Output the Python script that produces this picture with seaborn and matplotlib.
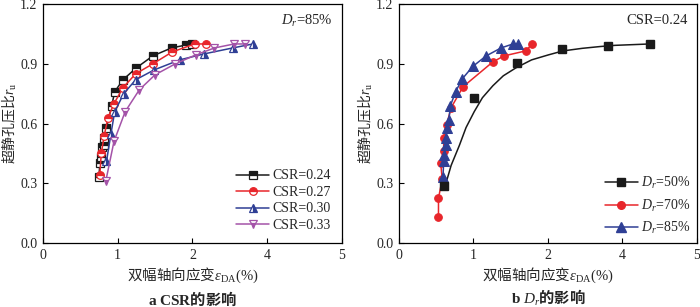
import numpy as np
import matplotlib
matplotlib.use("Agg")
import matplotlib.pyplot as plt
import seaborn as sns

# ---- data (x in %, y = r_u) ----
# (a) effect of CSR, Dr = 85%
csr24_x = [0.75, 0.76, 0.77, 0.79, 0.81, 0.82, 0.85, 0.92, 0.96, 1.07, 1.25, 1.47, 1.72, 1.92, 2.00]
csr24_y = [0.33, 0.40, 0.43, 0.48, 0.49, 0.53, 0.58, 0.69, 0.76, 0.82, 0.88, 0.94, 0.98, 0.995, 1.00]
csr27_x = [0.76, 0.78, 0.82, 0.87, 0.95, 1.07, 1.24, 1.47, 1.73, 2.06, 2.36]
csr27_y = [0.34, 0.45, 0.54, 0.63, 0.70, 0.78, 0.85, 0.90, 0.96, 1.00, 1.00]
csr30_x = [0.85, 0.91, 0.96, 1.08, 1.24, 1.49, 1.83, 2.31, 3.08, 3.62]
csr30_y = [0.41, 0.55, 0.66, 0.75, 0.82, 0.87, 0.92, 0.95, 0.98, 1.00]
csr33_x = [0.84, 0.95, 1.10, 1.29, 1.50, 1.77, 2.09, 2.59, 3.12, 3.42]
csr33_y = [0.31, 0.51, 0.66, 0.77, 0.845, 0.90, 0.945, 0.98, 1.00, 1.00]

# (b) effect of Dr, CSR = 0.24
dr50_x = [0.61, 1.01, 1.59, 2.38, 3.60, 4.37]
dr50_y = [0.285, 0.73, 0.905, 0.975, 0.99, 1.00]
dr50_fit_x = [0.63, 0.70, 0.81, 0.90, 1.01, 1.12, 1.26, 1.40, 1.57, 1.78, 2.01, 2.40, 2.92, 3.40, 3.80, 4.37]
dr50_fit_y = [0.30, 0.39, 0.49, 0.58, 0.66, 0.73, 0.79, 0.84, 0.88, 0.92, 0.945, 0.965, 0.978, 0.987, 0.993, 1.00]
dr70_x = [0.53, 0.53, 0.58, 0.56, 0.60, 0.60, 0.64, 0.70, 0.86, 1.26, 1.41, 1.70, 1.79]
dr70_y = [0.13, 0.225, 0.32, 0.40, 0.46, 0.53, 0.595, 0.68, 0.785, 0.91, 0.94, 0.965, 1.00]
dr85_x = [0.59, 0.60, 0.61, 0.63, 0.63, 0.64, 0.67, 0.69, 0.76, 0.85, 0.99, 1.17, 1.37, 1.53, 1.60]
dr85_y = [0.33, 0.41, 0.44, 0.49, 0.53, 0.58, 0.62, 0.69, 0.76, 0.825, 0.887, 0.94, 0.98, 1.00, 1.00]

x_ticks = [0, 1, 2, 4, 5]
y_ticks = [0.0, 0.3, 0.6, 0.9, 1.2]

black = "#1a1a1a"
red = "#e8262b"
blue = "#2f3f95"
purple = "#a453a8"

sns.set_style("ticks")
plt.rcParams['font.family'] = ['Liberation Serif', 'Noto Sans CJK SC']
plt.rcParams['mathtext.fontset'] = 'custom'
plt.rcParams['mathtext.rm'] = 'Liberation Serif'
plt.rcParams['mathtext.it'] = 'Liberation Serif:italic'
plt.rcParams['mathtext.bf'] = 'Liberation Serif:bold'
plt.rcParams['xtick.direction'] = 'in'
plt.rcParams['ytick.direction'] = 'in'
cjk = 'Noto Sans CJK SC'


# x axis of the original is compressed between 2 and 4
def fwd(x):
    x = np.asarray(x, dtype=float)
    return np.where(x <= 2, x, np.where(x <= 4, 2 + (x - 2) / 2, x - 1))


def inv(p):
    p = np.asarray(p, dtype=float)
    return np.where(p <= 2, p, np.where(p <= 3, 2 + (p - 2) * 2, p + 1))


fig = plt.figure(figsize=(7, 3.07), dpi=100)
ax1 = fig.add_axes([0.0614, 0.2085, 0.427, 0.778])
ax2 = fig.add_axes([0.570, 0.2085, 0.4257, 0.778])

# ---- panel a ----
series_a = [
    (csr24_x, csr24_y, black, 's', 'top', 'CSR=0.24'),
    (csr27_x, csr27_y, red, 'o', 'top', 'CSR=0.27'),
    (csr30_x, csr30_y, blue, '^', 'right', 'CSR=0.30'),
    (csr33_x, csr33_y, purple, 'v', 'bottom', 'CSR=0.33'),
]
for xs, ys, c, m, fs, lab in series_a:
    sns.lineplot(x=xs, y=ys, ax=ax1, sort=False, estimator=None, color=c, lw=1.1,
                 marker=m, markersize=5.5, fillstyle=fs, markerfacecolor=c,
                 markerfacecoloralt='white', markeredgecolor=c, markeredgewidth=0.9,
                 label=lab)

# ---- panel b ----
sns.lineplot(x=dr50_fit_x, y=dr50_fit_y, ax=ax2, sort=False, estimator=None,
             color=black, lw=1.1)
sns.lineplot(x=dr70_x, y=dr70_y, ax=ax2, sort=False, estimator=None, color=red, lw=1.1,
             marker='o', markersize=5.5, markeredgecolor=red)
sns.lineplot(x=dr85_x, y=dr85_y, ax=ax2, sort=False, estimator=None, color=blue, lw=1.1,
             marker='^', markersize=6.5, markeredgecolor=blue)
ax2.plot(dr50_x, dr50_y, ls='none', marker='s', ms=5.2, color=black)

# legend handles for panel b (line + marker)
h50, = ax2.plot([], [], color=black, lw=1.1, marker='s', ms=5.2)
h70, = ax2.plot([], [], color=red, lw=1.1, marker='o', ms=5.5)
h85, = ax2.plot([], [], color=blue, lw=1.1, marker='^', ms=6.5)

for ax in (ax1, ax2):
    ax.set_xscale('function', functions=(fwd, inv))
    ax.set_xlim(0, 5)
    ax.set_ylim(0, 1.2)
    ax.set_xticks(x_ticks)
    ax.set_xticklabels([str(t) for t in x_ticks])
    ax.set_yticks(y_ticks)
    ax.set_yticklabels([f"{t:.1f}" for t in y_ticks])
    ax.minorticks_off()
    ax.tick_params(labelsize=10, length=3.5, width=0.8, color='black', pad=4)
    for s in ax.spines.values():
        s.set_linewidth(0.9)
        s.set_color('black')
    ax.set_xlabel(r"双幅轴向应变$\varepsilon_\mathrm{DA}\mathrm{(\%)}$", fontsize=10.5,
                  labelpad=3, family=cjk)
    ax.set_ylabel(r"超静孔压比$r_\mathrm{u}$", fontsize=10, labelpad=1, family=cjk)

ax1.legend(loc='lower right', frameon=False, fontsize=10, handlelength=2.4,
           handletextpad=0.2, labelspacing=0.25, borderaxespad=0.4)
ax2.legend([h50, h70, h85], [r"$D_r$=50%", r"$D_r$=70%", r"$D_r$=85%"],
           loc='lower right', frameon=False, fontsize=10, handlelength=2.4,
           handletextpad=0.2, labelspacing=0.45, borderaxespad=0.1)

ax1.text(0.97, 0.93, r"$D_r$=85%", transform=ax1.transAxes, ha='right', va='center',
         fontsize=10.5)
ax2.text(0.97, 0.93, "CSR=0.24", transform=ax2.transAxes, ha='right', va='center',
         fontsize=10.5)

fig.text(0.275, 0.028, r"$\mathbf{a\ CSR}$的影响", ha='center', va='center', fontsize=11,
         fontweight='bold', family=cjk)
fig.text(0.783, 0.028, r"$\mathbf{b}\ D_r$的影响", ha='center', va='center', fontsize=11,
         fontweight='bold', family=cjk)

fig.savefig("out.png", dpi=100)
